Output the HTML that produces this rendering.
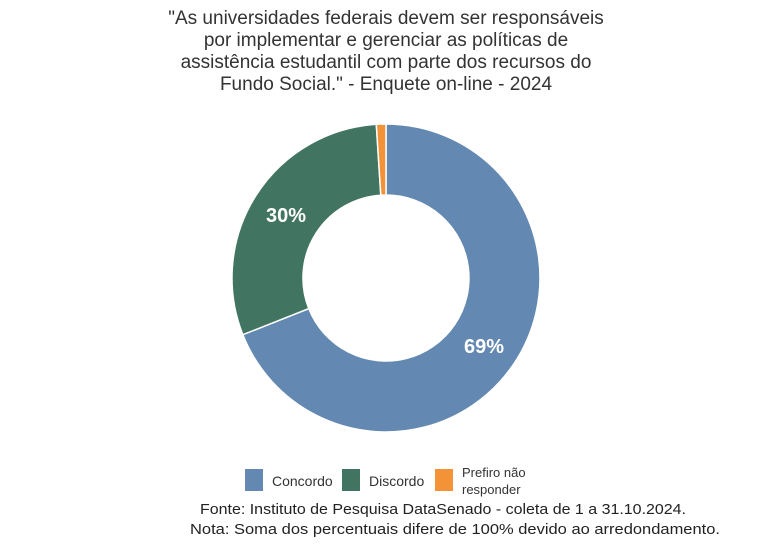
<!DOCTYPE html>
<html><head><meta charset="utf-8"><style>
body{margin:0;background:#fff;width:768px;height:548px;overflow:hidden;font-family:"Liberation Sans",sans-serif;}
</style></head><body>
<svg width="768" height="548" xmlns="http://www.w3.org/2000/svg" font-family="Liberation Sans, sans-serif">
<g font-size="19" fill="#333" text-anchor="middle">
<text x="386" y="24">"As universidades federais devem ser responsáveis</text>
<text x="386" y="46">por implementar e gerenciar as políticas de</text>
<text x="386" y="68">assistência estudantil com parte dos recursos do</text>
<text x="386" y="90">Fundo Social." - Enquete on-line - 2024</text>
</g>
<g stroke="#fff" stroke-width="1.5">
<path d="M386,124 A154,154 0 1 1 242.8,334.7 L308.8,308.6 A83,83 0 1 0 386,195 Z" fill="#6388b1"/>
<path d="M242.8,334.7 A154,154 0 0 1 376.3,124.3 L380.8,195.2 A83,83 0 0 0 308.8,308.6 Z" fill="#427561"/>
<path d="M376.3,124.3 A154,154 0 0 1 386,124 L386,195 A83,83 0 0 0 380.8,195.2 Z" fill="#f39237"/>
</g>
<g font-size="20" font-weight="bold" fill="#fff" text-anchor="middle">
<text x="484" y="353">69%</text>
<text x="286" y="222">30%</text>
</g>
<rect x="245" y="469" width="18" height="22" fill="#6388b1"/>
<text x="272" y="486" font-size="14" fill="#333">Concordo</text>
<rect x="342" y="469" width="18" height="22" fill="#427561"/>
<text x="369" y="486" font-size="14" fill="#333">Discordo</text>
<rect x="435" y="469" width="18" height="22" fill="#f39237"/>
<text x="462" y="477" font-size="13" fill="#333">Prefiro não</text>
<text x="462" y="494" font-size="13" fill="#333">responder</text>
<g font-size="15" fill="#222">
<text x="200" y="514" textLength="486" lengthAdjust="spacingAndGlyphs">Fonte: Instituto de Pesquisa DataSenado - coleta de 1 a 31.10.2024.</text>
<text x="190" y="534" textLength="530" lengthAdjust="spacingAndGlyphs">Nota: Soma dos percentuais difere de 100% devido ao arredondamento.</text>
</g>
</svg>
</body></html>
